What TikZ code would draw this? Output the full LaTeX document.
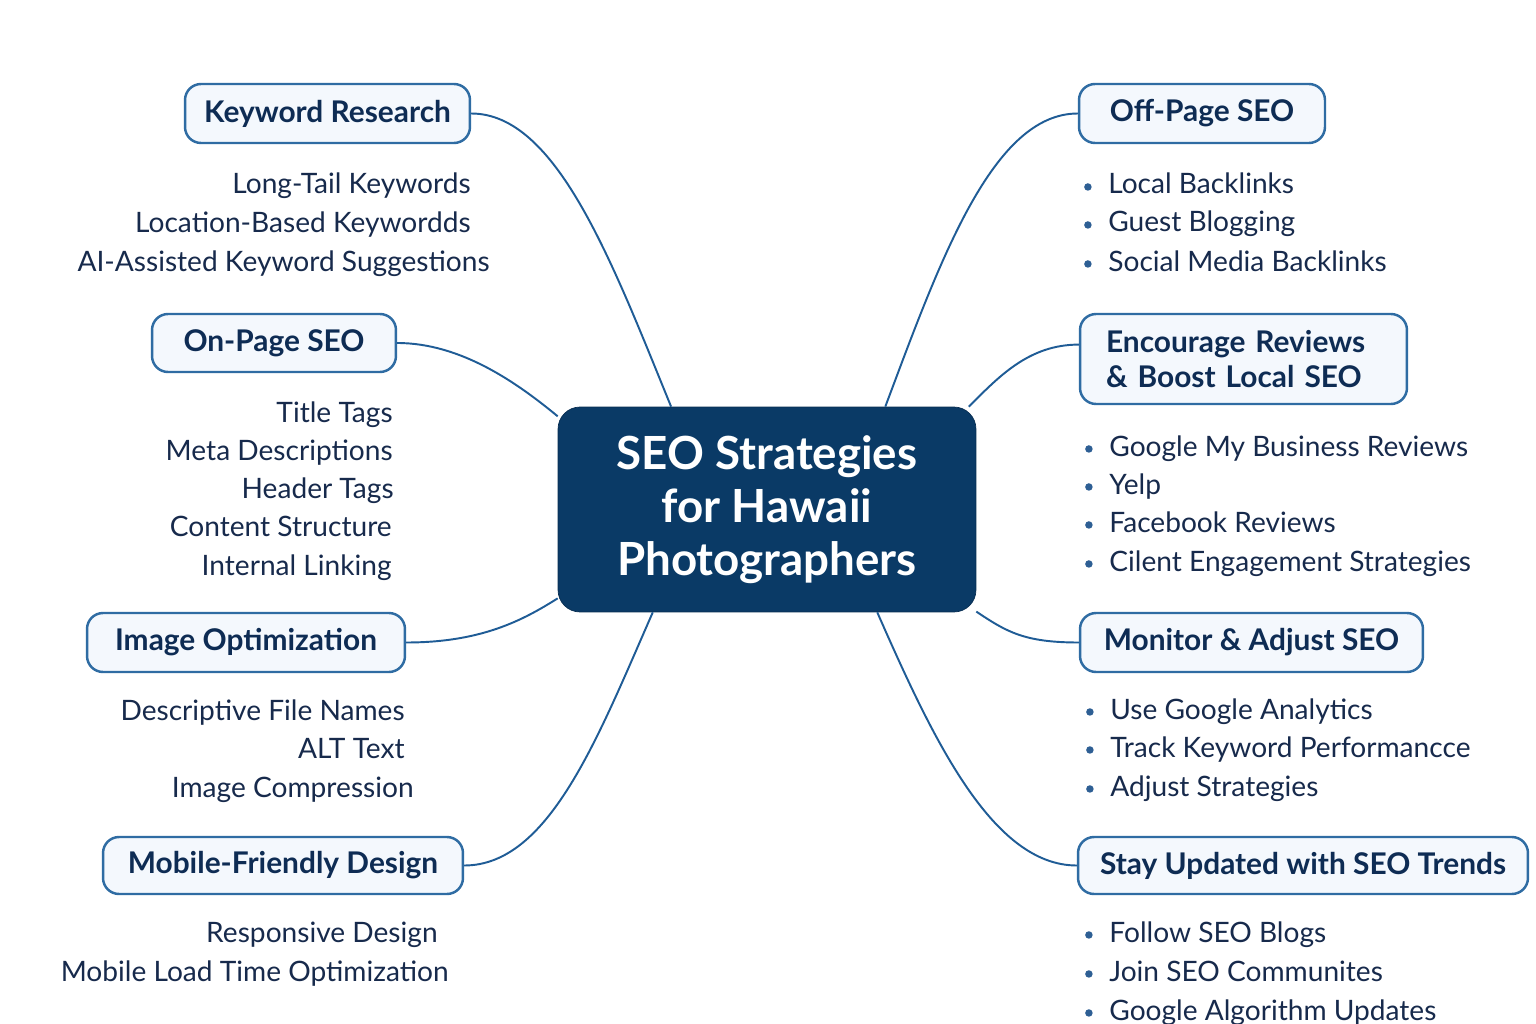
\documentclass[tikz,border=0pt]{standalone}
\usepackage{fontspec}
\setmainfont{Lato}
\definecolor{navy}{HTML}{0A3A66}
\definecolor{boxline}{HTML}{2F6CA3}
\definecolor{boxfill}{HTML}{F4F8FD}
\definecolor{linkc}{HTML}{1F5C96}
\definecolor{headtext}{HTML}{0E2C54}
\definecolor{itemtext}{HTML}{172A4C}
\definecolor{bulletc}{HTML}{2E5F94}
\begin{document}
\begin{tikzpicture}[x=0.02cm,y=-0.02cm,
  topic/.style={draw=boxline,line width=1.4pt,fill=boxfill,rounded corners=0.32cm,text=headtext,font=\fontsize{17}{20}\selectfont\bfseries,inner sep=0pt},
  leaf/.style={text=itemtext,font=\fontsize{16}{19}\selectfont,inner sep=0pt,text height=11pt,text depth=3pt},
  litem/.style={leaf,anchor=base east},
  ritem/.style={leaf,anchor=base west,label={[dot,label distance=0.32cm]left:{}}},
  dot/.style={circle,fill=bulletc,inner sep=0pt,minimum size=0.15cm},
  link/.style={draw=linkc,line width=1.1pt}]
\useasboundingbox (0,0) rectangle (1536,1024);
\fill[white] (0,0) rectangle (1536,1024);

\node[fill=navy,draw=navy!80!black,rounded corners=0.44cm,minimum width=8.36cm,minimum height=4.1cm,align=center,text=white,font=\fontsize{26}{30}\selectfont\bfseries] (root) at (767,509.5) {SEO Strategies\\for Hawaii\\Photographers};

\node[topic,minimum width=5.7cm,minimum height=1.18cm] (kw) at (327.5,113.5) {Keyword Research};
\node[topic,minimum width=4.88cm,minimum height=1.16cm] (onp) at (274,343) {On-Page SEO};
\node[topic,minimum width=6.36cm,minimum height=1.18cm] (img) at (246,642.5) {Image Optimization};
\node[topic,minimum width=7.2cm,minimum height=1.14cm] (mob) at (283,865.5) {Mobile-Friendly Design};
\node[topic,minimum width=4.92cm,minimum height=1.18cm] (off) at (1202,113.5) {Off-Page SEO};
\node[topic,text width=5.5cm,inner xsep=0.52cm,minimum height=1.8cm,align=left,font=\fontsize{17}{20}\selectfont\bfseries] (enc) at (1243.5,359) {Encourage Reviews\\\& Boost Local SEO};
\node[topic,minimum width=6.86cm,minimum height=1.18cm] (mon) at (1251.5,642.5) {Monitor \& Adjust SEO};
\node[topic,minimum width=9cm,minimum height=1.14cm] (stay) at (1303,865.5) {Stay Updated with SEO Trends};

\node[litem] (kw1) at (471,194) {Long-Tail Keywords};
\node[litem] (kw2) at (471,232.5) {Location-Based Keywordds};
\node[litem] (kw3) at (490,271) {AI-Assisted Keyword Suggestions};

\node[litem] (onp1) at (393,422) {Title Tags};
\node[litem] (onp2) at (393,460) {Meta Descriptions};
\node[litem] (onp3) at (394,498) {Header Tags};
\node[litem] (onp4) at (392,536) {Content Structure};
\node[litem] (onp5) at (392,575) {Internal Linking};

\node[litem] (img1) at (405,720) {Descriptive File Names};
\node[litem] (img2) at (405,758) {ALT Text};
\node[litem] (img3) at (414,797) {Image Compression};

\node[litem] (mob1) at (438,942) {Responsive Design};
\node[litem] (mob2) at (449,981) {Mobile Load Time Optimization};

\node[ritem] (off1) at (1108,194) {Local Backlinks};
\node[ritem] (off2) at (1108,232) {Guest Blogging};
\node[ritem] (off3) at (1108,271) {Social Media Backlinks};

\node[ritem] (enc1) at (1109,456) {Google My Business Reviews};
\node[ritem] (enc2) at (1109,494) {Yelp};
\node[ritem] (enc3) at (1109,532) {Facebook Reviews};
\node[ritem] (enc4) at (1109,571) {Cilent Engagement Strategies};

\node[ritem] (mon1) at (1110,719) {Use Google Analytics};
\node[ritem] (mon2) at (1110,757) {Track Keyword Performancce};
\node[ritem] (mon3) at (1110,796) {Adjust Strategies};

\node[ritem] (stay1) at (1109,942) {Follow SEO Blogs};
\node[ritem] (stay2) at (1109,981) {Join SEO Communites};
\node[ritem] (stay3) at (1109,1020) {Google Algorithm Updates};

\draw[link] (kw.east) .. controls +(85,0) and +(-60,-147) .. (root.133.4);
\draw[link] (onp.east) .. controls +(64,0) and +(-40,-33) .. (root.156.2);
\draw[link] (img.east) .. controls +(75,0) and +(-35,22) .. (root.203.6);
\draw[link] (mob.east) .. controls +(85,0) and +(-55,125) .. (root.222.5);
\draw[link] (off.west) .. controls +(-85,0) and +(55,-147) .. (root.41.7);
\draw[link] (enc.175) .. controls +(-50,0) and +(30,-30) .. (root.27);
\draw[link] (mon.west) .. controls +(-55,0) and +(30,20) .. (root.334.8);
\draw[link] (stay.west) .. controls +(-85,0) and +(55,125) .. (root.317.8);
\end{tikzpicture}
\end{document}
